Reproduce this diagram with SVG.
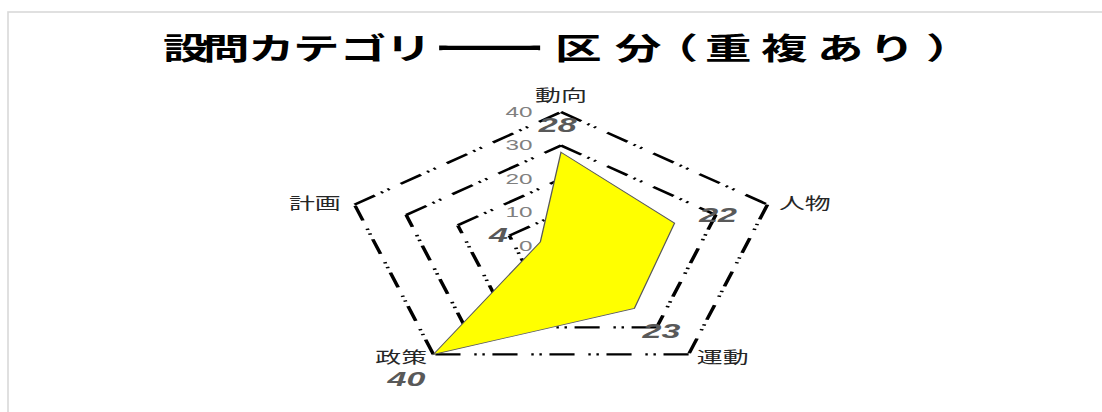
<svg xmlns="http://www.w3.org/2000/svg" width="1102" height="412" viewBox="0 0 1102 412">
<style>
.ring{fill:none;stroke:#000;stroke-width:2.3;stroke-dasharray:15.5 4.7 1.5 3.5 1.5 8.5;}
.axis{font-family:"Noto Sans CJK JP","Liberation Sans",sans-serif;font-size:16px;fill:#262626;}
.tick{font-family:"Liberation Sans","DejaVu Sans",sans-serif;font-size:15px;fill:#808080;text-anchor:end;}
.val{font-family:"Liberation Sans","DejaVu Sans",sans-serif;font-size:21px;font-weight:bold;font-style:italic;fill:#595959;text-anchor:middle;}
.title{font-family:"Noto Sans CJK JP","Liberation Sans",sans-serif;font-size:30px;font-weight:bold;fill:#000;}
</style>
<rect x="0" y="0" width="1102" height="412" fill="#fff"/>
<rect id="frame" x="8" y="12" width="1200" height="500" fill="#fff" stroke="#d9d9d9" stroke-width="1.6"/>
<g id="title" transform="scale(1.55,1)">
<text class="title" y="59"><tspan x="105.2 131 160 189 219.4 248.6">設問カテゴリ</tspan><tspan x="276" textLength="80" lengthAdjust="spacingAndGlyphs">ー</tspan><tspan x="358.1 396.8 420.3 454.8 491 527.1 560.3 597.4">区分（重複あり）</tspan></text>
</g>
<g id="chart" transform="matrix(1.62,0,0,1,-347.82,0)">
<g id="connectors">
<path class="ring" d="M561,112 L688.45,204.59 M688.45,204.59 L639.77,354.41 M639.77,354.41 L482.23,354.41 M482.23,354.41 L433.55,204.59 M433.55,204.59 L561,112"/>
<path class="ring" d="M561,145.5 L656.59,214.95 M656.59,214.95 L620.07,327.3 M620.07,327.3 L501.93,327.3 M501.93,327.3 L465.41,214.95 M465.41,214.95 L561,145.5"/>
<path class="ring" d="M561,179 L624.72,225.3 M624.72,225.3 L600.38,300.2 M600.38,300.2 L521.62,300.2 M521.62,300.2 L497.28,225.3 M497.28,225.3 L561,179"/>
<path class="ring" d="M561,212.5 L592.86,235.65 M592.86,235.65 L580.69,273.1 M580.69,273.1 L541.31,273.1 M541.31,273.1 L529.14,235.65 M529.14,235.65 L561,212.5"/>
</g>
<g id="series">
<polygon points="561,152.2 631.1,223.23 606.29,308.33 482.23,354.41 548.26,241.86" fill="#ffff00" stroke="#595959" stroke-width="0.8" stroke-linejoin="miter"/>
</g>
<g id="ticks">
<text class="tick" x="543.5" y="117">40</text>
<text class="tick" x="543.5" y="150.5">30</text>
<text class="tick" x="543.5" y="184">20</text>
<text class="tick" x="543.5" y="217.5">10</text>
<text class="tick" x="543.5" y="251.5">0</text>
</g>
<g id="axis-dokou"><text class="axis" x="561" y="101" text-anchor="middle">動向</text></g>
<g id="axis-jinbutsu"><text class="axis" x="695.5" y="209">人物</text></g>
<g id="axis-undou"><text class="axis" x="644.8" y="363">運動</text></g>
<g id="axis-seisaku"><text class="axis" x="478.3" y="363" text-anchor="end">政策</text></g>
<g id="axis-keikaku"><text class="axis" x="425" y="209" text-anchor="end">計画</text></g>
<g id="values">
<text class="val" x="559" y="132">28</text>
<text class="val" x="658" y="222">22</text>
<text class="val" x="623" y="338">23</text>
<text class="val" x="465.6" y="386">40</text>
<text class="val" x="522.4" y="242">4</text>
</g>
</g>
</svg>
